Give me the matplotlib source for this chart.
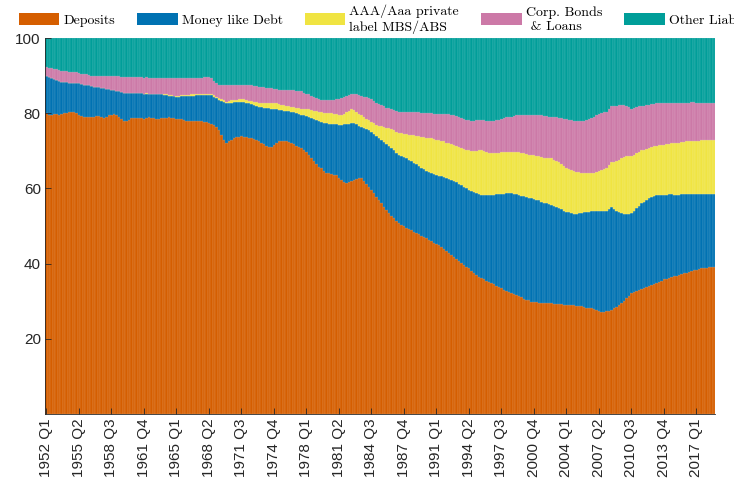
import numpy as np
import matplotlib
matplotlib.use('Agg')
import matplotlib.pyplot as plt
from matplotlib.colors import to_rgb

# quarterly shares of liabilities (percent), 1952 Q1 .. 2018 Q4
start_year = 1952
n_q = 268
quarters = ['%d Q%d' % (start_year + k // 4, k % 4 + 1) for k in range(n_q)]

deposits = [
    80.0, 79.6, 79.5, 79.8, 79.7, 79.6, 79.8, 80.0, 80.1, 80.2, 80.3, 80.4, 80.0, 79.6, 79.3, 79.1,
    79.0, 78.9, 78.9, 79.0, 79.2, 79.3, 79.0, 78.8, 79.1, 79.4, 79.6, 79.8, 79.4, 78.9, 78.4, 78.0,
    77.9, 78.3, 78.6, 78.7, 78.8, 78.7, 78.6, 78.5, 78.7, 78.9, 78.8, 78.6, 78.5, 78.5, 78.6, 78.7,
    78.8, 78.9, 78.7, 78.6, 78.5, 78.4, 78.4, 78.2, 78.0, 77.9, 77.8, 77.9, 78.0, 77.9, 77.8, 77.7,
    77.7, 77.5, 77.2, 76.8, 76.4, 75.5, 74.3, 73.0, 72.0, 72.5, 73.0, 73.3, 73.6, 73.8, 73.9, 73.8,
    73.6, 73.4, 73.3, 73.2, 73.0, 72.6, 72.2, 71.8, 71.4, 71.1, 70.9, 71.5, 72.1, 72.6, 72.7, 72.6,
    72.5, 72.4, 72.1, 71.8, 71.4, 71.1, 70.7, 70.2, 69.8, 69.0, 68.2, 67.4, 66.6, 65.8, 65.3, 64.7,
    64.2, 64.0, 63.8, 63.6, 63.5, 62.8, 62.2, 61.8, 61.5, 61.8, 62.0, 62.3, 62.5, 62.7, 62.8, 62.0,
    61.2, 60.4, 59.6, 58.7, 57.8, 56.9, 56.0, 55.1, 54.2, 53.4, 52.7, 52.0, 51.3, 50.7, 50.3, 50.0,
    49.6, 49.2, 48.9, 48.5, 48.2, 47.8, 47.4, 47.0, 46.7, 46.3, 46.0, 45.6, 45.3, 44.9, 44.4, 43.9,
    43.3, 42.8, 42.3, 41.8, 41.3, 40.8, 40.2, 39.7, 39.2, 38.7, 38.1, 37.6, 37.0, 36.5, 36.2, 35.8,
    35.5, 35.1, 34.8, 34.5, 34.1, 33.8, 33.4, 33.1, 32.8, 32.4, 32.1, 31.8, 31.6, 31.3, 31.0, 30.7,
    30.4, 30.2, 29.9, 29.8, 29.7, 29.6, 29.5, 29.5, 29.4, 29.4, 29.4, 29.3, 29.3, 29.2, 29.2, 29.1,
    29.1, 29.0, 29.0, 28.9, 28.8, 28.7, 28.6, 28.5, 28.3, 28.2, 28.1, 27.9, 27.6, 27.4, 27.2, 27.1,
    27.3, 27.5, 27.7, 28.1, 28.5, 28.9, 29.4, 30.1, 30.8, 31.5, 32.1, 32.4, 32.7, 33.0, 33.2, 33.5,
    33.7, 34.0, 34.3, 34.6, 34.9, 35.2, 35.5, 35.8, 36.0, 36.2, 36.4, 36.6, 36.8, 37.0, 37.2, 37.4,
    37.6, 37.8, 38.0, 38.2, 38.4, 38.5, 38.7, 38.8, 38.9, 39.0, 39.1, 39.2,
]

money_debt = [
    9.9, 10.0, 9.9, 9.3, 9.2, 9.0, 8.6, 8.3, 8.1, 7.9, 7.8, 7.6, 8.0, 8.3, 8.4, 8.5,
    8.5, 8.5, 8.3, 8.1, 7.8, 7.6, 7.8, 7.9, 7.4, 7.0, 6.7, 6.4, 6.6, 6.9, 7.2, 7.4,
    7.4, 7.0, 6.7, 6.6, 6.5, 6.6, 6.7, 6.7, 6.5, 6.2, 6.3, 6.5, 6.5, 6.5, 6.4, 6.2,
    6.0, 5.8, 5.9, 5.9, 5.9, 6.0, 6.1, 6.3, 6.6, 6.7, 6.9, 6.8, 6.8, 6.9, 7.0, 7.1,
    7.1, 7.3, 7.6, 7.6, 7.6, 8.1, 8.9, 9.9, 10.6, 10.2, 9.8, 9.6, 9.4, 9.3, 9.2, 9.2,
    9.2, 9.2, 9.1, 9.0, 9.0, 9.1, 9.4, 9.7, 10.0, 10.2, 10.3, 9.6, 8.9, 8.3, 8.1, 8.1,
    8.1, 8.1, 8.3, 8.4, 8.6, 8.7, 8.9, 9.2, 9.4, 10.1, 10.6, 11.1, 11.6, 12.1, 12.3, 12.7,
    13.1, 13.2, 13.3, 13.4, 13.5, 14.1, 14.7, 15.2, 15.6, 15.4, 15.4, 15.0, 14.5, 14.0, 13.6, 14.0,
    14.5, 15.0, 15.4, 15.9, 16.2, 16.5, 16.9, 17.2, 17.5, 17.8, 18.0, 18.1, 18.2, 18.3, 18.4, 18.4,
    18.4, 18.4, 18.3, 18.3, 18.2, 18.2, 18.1, 18.1, 18.0, 18.0, 18.0, 18.1, 18.3, 18.5, 18.8, 19.1,
    19.4, 19.7, 19.9, 20.1, 20.3, 20.5, 20.7, 20.8, 20.9, 21.0, 21.2, 21.4, 21.7, 22.0, 22.1, 22.4,
    22.7, 23.1, 23.4, 23.8, 24.3, 24.7, 25.2, 25.5, 25.9, 26.3, 26.6, 26.8, 26.9, 27.0, 27.1, 27.2,
    27.3, 27.3, 27.5, 27.4, 27.3, 27.2, 27.0, 26.7, 26.6, 26.4, 26.2, 26.0, 25.7, 25.5, 25.2, 25.0,
    24.7, 24.6, 24.4, 24.4, 24.5, 24.7, 24.9, 25.1, 25.4, 25.6, 25.8, 26.0, 26.3, 26.5, 26.7, 26.8,
    26.6, 26.9, 27.4, 26.4, 25.4, 24.7, 24.0, 23.2, 22.5, 21.8, 21.3, 21.6, 22.0, 22.4, 22.8, 23.0,
    23.3, 23.4, 23.5, 23.4, 23.3, 23.1, 22.8, 22.5, 22.3, 22.2, 22.0, 21.7, 21.5, 21.3, 21.2, 21.0,
    20.8, 20.6, 20.5, 20.3, 20.0, 19.9, 19.7, 19.6, 19.5, 19.4, 19.3, 19.2,
]

aaa_mbs = [
    0.0, 0.0, 0.0, 0.0, 0.0, 0.0, 0.0, 0.0, 0.0, 0.0, 0.0, 0.0, 0.0, 0.0, 0.0, 0.0,
    0.0, 0.0, 0.0, 0.0, 0.0, 0.0, 0.0, 0.0, 0.0, 0.0, 0.0, 0.0, 0.0, 0.0, 0.0, 0.0,
    0.0, 0.0, 0.0, 0.0, 0.0, 0.0, 0.0, 0.0, 0.1, 0.1, 0.1, 0.1, 0.2, 0.2, 0.2, 0.2,
    0.2, 0.2, 0.2, 0.2, 0.3, 0.3, 0.3, 0.3, 0.3, 0.3, 0.3, 0.3, 0.3, 0.3, 0.3, 0.3,
    0.3, 0.3, 0.4, 0.4, 0.4, 0.4, 0.5, 0.5, 0.5, 0.5, 0.6, 0.6, 0.6, 0.6, 0.6, 0.7,
    0.7, 0.7, 0.8, 0.8, 0.9, 0.9, 1.0, 1.1, 1.2, 1.3, 1.4, 1.5, 1.6, 1.5, 1.4, 1.4,
    1.3, 1.3, 1.3, 1.4, 1.5, 1.5, 1.6, 1.7, 1.8, 1.9, 2.1, 2.2, 2.4, 2.5, 2.6, 2.7,
    2.7, 2.8, 3.0, 2.9, 2.8, 2.7, 2.6, 2.9, 3.3, 3.5, 3.6, 3.5, 3.4, 3.2, 3.0, 2.9,
    2.8, 2.7, 2.7, 2.7, 2.9, 3.2, 3.6, 4.0, 4.4, 4.8, 5.1, 5.4, 5.6, 5.8, 6.0, 6.2,
    6.4, 6.7, 7.0, 7.3, 7.6, 7.9, 8.2, 8.5, 8.8, 9.1, 9.3, 9.4, 9.4, 9.4, 9.5, 9.5,
    9.5, 9.6, 9.6, 9.7, 9.7, 9.8, 9.8, 9.9, 10.1, 10.4, 10.7, 11.0, 11.3, 11.6, 11.8, 11.7,
    11.5, 11.3, 11.1, 11.0, 11.0, 11.0, 11.0, 11.1, 11.1, 11.1, 11.1, 11.2, 11.2, 11.3, 11.3, 11.4,
    11.4, 11.5, 11.5, 11.6, 11.7, 11.8, 11.9, 12.0, 12.1, 12.2, 12.4, 12.3, 12.3, 12.2, 12.0, 11.8,
    11.7, 11.6, 11.5, 11.3, 11.1, 10.9, 10.7, 10.5, 10.3, 10.2, 10.1, 10.2, 10.4, 10.7, 11.0, 11.3,
    11.5, 11.8, 12.0, 12.6, 13.3, 14.0, 14.6, 15.0, 15.2, 15.3, 15.2, 15.0, 14.7, 14.4, 14.1, 13.8,
    13.6, 13.4, 13.3, 13.2, 13.2, 13.2, 13.2, 13.3, 13.4, 13.5, 13.6, 13.7, 13.8, 13.9, 14.0, 14.0,
    14.1, 14.1, 14.2, 14.2, 14.3, 14.3, 14.4, 14.4, 14.4, 14.5, 14.5, 14.5,
]

corp_bonds = [
    2.3, 2.4, 2.6, 2.7, 2.8, 2.9, 2.9, 2.9, 2.9, 2.9, 2.9, 2.9, 2.9, 2.9, 2.8, 2.8,
    2.8, 2.8, 2.8, 2.9, 3.0, 3.1, 3.2, 3.3, 3.4, 3.5, 3.6, 3.7, 3.8, 4.0, 4.1, 4.3,
    4.4, 4.4, 4.4, 4.3, 4.3, 4.3, 4.2, 4.2, 4.2, 4.2, 4.1, 4.1, 4.1, 4.1, 4.2, 4.3,
    4.4, 4.5, 4.5, 4.6, 4.6, 4.6, 4.5, 4.5, 4.4, 4.4, 4.3, 4.3, 4.2, 4.2, 4.2, 4.4,
    4.6, 4.4, 4.1, 3.8, 3.6, 3.5, 3.8, 4.1, 4.4, 4.3, 4.2, 4.1, 4.0, 3.9, 3.8, 3.9,
    4.0, 4.1, 4.2, 4.3, 4.4, 4.5, 4.4, 4.3, 4.2, 4.1, 4.0, 3.9, 3.8, 3.9, 4.0, 4.1,
    4.2, 4.3, 4.4, 4.5, 4.5, 4.6, 4.6, 4.4, 4.2, 4.0, 3.8, 3.6, 3.4, 3.4, 3.4, 3.4,
    3.4, 3.4, 3.4, 3.7, 4.0, 4.3, 4.5, 4.4, 4.3, 4.2, 4.0, 4.3, 4.6, 4.9, 5.2, 5.5,
    5.7, 5.9, 6.0, 6.0, 5.9, 5.8, 5.6, 5.5, 5.4, 5.3, 5.3, 5.4, 5.5, 5.6, 5.7, 5.7,
    5.8, 5.9, 6.0, 6.1, 6.2, 6.3, 6.4, 6.5, 6.6, 6.7, 6.7, 6.8, 6.9, 7.0, 7.2, 7.4,
    7.6, 7.7, 7.8, 7.9, 8.0, 8.0, 8.0, 8.0, 8.0, 8.0, 8.0, 8.0, 8.1, 8.1, 8.1, 8.2,
    8.3, 8.4, 8.5, 8.6, 8.7, 8.8, 8.9, 9.0, 9.1, 9.2, 9.3, 9.5, 9.7, 9.9, 10.1, 10.3,
    10.4, 10.5, 10.6, 10.7, 10.8, 10.9, 11.0, 11.0, 11.1, 11.1, 11.1, 11.3, 11.6, 11.9, 12.2, 12.6,
    12.9, 13.1, 13.3, 13.4, 13.5, 13.6, 13.6, 13.8, 14.1, 14.4, 14.7, 15.0, 15.2, 15.3, 15.2, 15.0,
    14.9, 14.8, 14.7, 14.7, 14.6, 14.6, 14.2, 13.8, 13.4, 13.0, 12.6, 12.4, 12.2, 12.0, 11.8, 11.7,
    11.6, 11.5, 11.4, 11.3, 11.2, 11.2, 11.2, 11.1, 11.0, 10.9, 10.8, 10.7, 10.6, 10.5, 10.4, 10.4,
    10.3, 10.3, 10.2, 10.2, 10.1, 10.1, 10.0, 10.0, 9.9, 9.9, 9.8, 9.8,
]

series = [np.array(deposits), np.array(money_debt), np.array(aaa_mbs), np.array(corp_bonds)]
series.append(100 - sum(series))   # other liabilities = remainder
names = ['Deposits', 'Money like Debt', 'AAA/Aaa private\nlabel MBS/ABS',
         'Corp. Bonds\n & Loans', 'Other Liabilities']
colors = ['#D55E00', '#0072B2', '#F0E442', '#CC79A7', '#009E99']

fig = plt.figure(figsize=(7.34, 4.84), dpi=100)
ax = fig.add_axes([45 / 734, 70 / 484, 670 / 734, 376 / 484])

x = np.arange(1, n_q + 1)
bottom = np.zeros(n_q)
for s, nm, c in zip(series, names, colors):
    light = 0.65 * np.array(to_rgb(c)) + 0.35    # faint stripe between bars
    ax.bar(x, s, width=1.0, bottom=bottom, color=c, label=nm,
           edgecolor=light, linewidth=0.25)
    bottom += s

ax.set_xlim(0.5, n_q + 0.5)
ax.set_ylim(0, 100)
ax.set_yticks([20, 40, 60, 80, 100])
tk = np.arange(0, n_q, 13)
ax.set_xticks(x[tk])
ax.set_xticklabels([quarters[k] for k in tk], rotation=90)
for lab in ax.get_xticklabels() + ax.get_yticklabels():
    lab.set_fontfamily('Liberation Sans')
    lab.set_fontsize(11)
    lab.set_color('#262626')
ax.tick_params(direction='in', length=4, width=0.6, color='#262626', pad=3)
for side in ['top', 'right']:
    ax.spines[side].set_visible(False)
for side in ['left', 'bottom']:
    ax.spines[side].set_linewidth(0.6)
    ax.spines[side].set_color('#262626')

leg = fig.legend(loc='upper left', bbox_to_anchor=(0.022, 0.996), ncol=5, frameon=False,
                 prop={'family': 'cmr10', 'size': 10}, handlelength=2.9, handleheight=0.85,
                 handletextpad=0.3, columnspacing=1.6, borderpad=0.2, borderaxespad=0)
for h in leg.legend_handles:
    h.set_edgecolor('none')

fig.savefig('out.png', dpi=100)
